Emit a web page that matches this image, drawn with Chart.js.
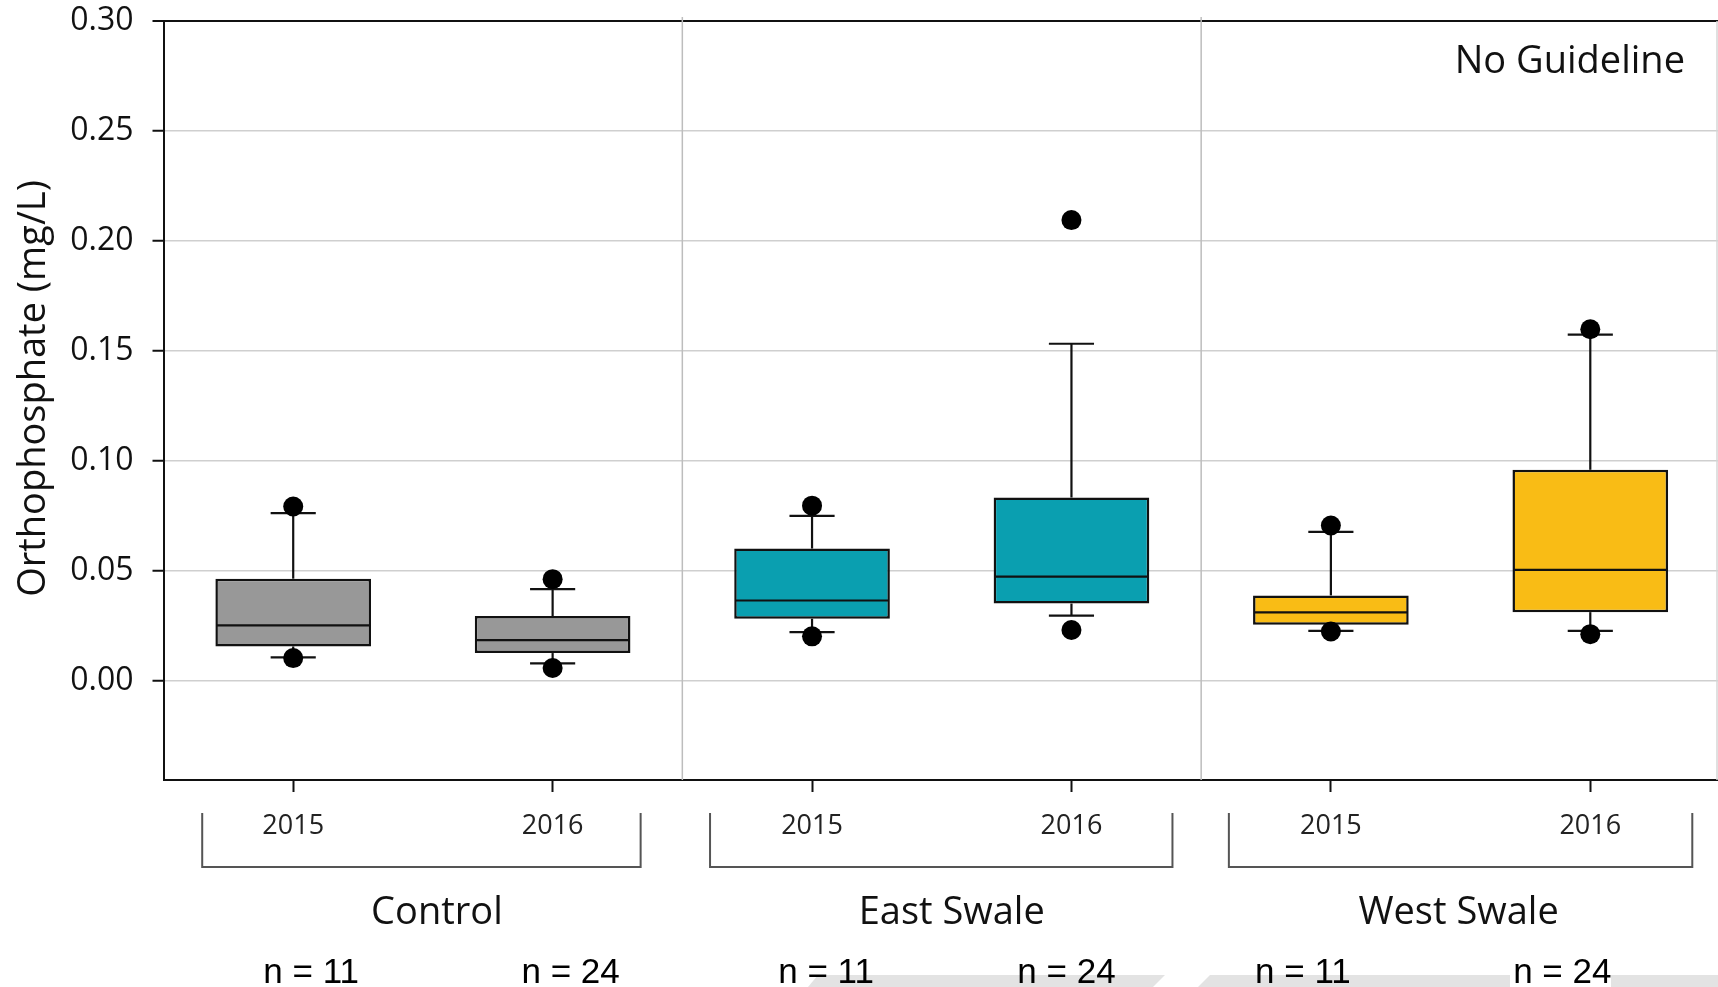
<!DOCTYPE html>
<html>
<head>
<meta charset="utf-8">
<title>Orthophosphate by site and year</title>
<script src="https://cdn.jsdelivr.net/npm/chart.js@4.4.1/dist/chart.umd.min.js"></script>
<style>
  html, body { margin: 0; padding: 0; background: #fff; overflow: hidden; }
  #wrap { position: relative; width: 1720px; height: 987px; }
</style>
</head>
<body>
<div id="wrap"><canvas id="chart"></canvas></div>
<script>
// ---- data ----
const yearLabels   = ['2015', '2016', '2015', '2016', '2015', '2016'];
const sites        = ['Control', 'East Swale', 'West Swale'];
const sampleSizes  = [11, 24, 11, 24, 11, 24];
const q1           = [0.0157, 0.0127, 0.0283, 0.0352, 0.0256, 0.0313];
const median       = [0.0253, 0.0186, 0.0366, 0.0474, 0.0312, 0.0505];
const q3           = [0.0465, 0.0295, 0.0602, 0.0834, 0.0389, 0.0960];
const whiskerLow   = [0.0107, 0.0080, 0.0222, 0.0297, 0.0228, 0.0228];
const whiskerHigh  = [0.0763, 0.0418, 0.0751, 0.1533, 0.0678, 0.1574];
const pointLow     = [0.0104, 0.0059, 0.0203, 0.0232, 0.0225, 0.0213];
const pointHigh    = [0.0793, 0.0463, 0.0797, 0.2095, 0.0707, 0.1599];
const yTickValues  = [0, 0.05, 0.10, 0.15, 0.20, 0.25, 0.30];
const yAxisTitle   = 'Orthophosphate (mg/L)';
const guidelineNote = 'No Guideline';

// ---- styling ----
const FONT = '"Open Sans", "Noto Sans", sans-serif';
const N_FONT = '"Liberation Sans", Arial, sans-serif';
const INK = '#111111';
const boxFill = ['#989898', '#989898', '#0a9fb0', '#0a9fb0', '#f9bc15', '#f9bc15'];
const nLabelShift = [18, 18, 14, -5, -28, -28];     // px nudges of the n labels
const siteLabelShift = [14, 10, -2];                 // px nudges of the site names
const bracketReach = [[91, 88], [102, 101], [102, 102]]; // px beyond outer ticks

function strokeLine(ctx, x1, y1, x2, y2) {
  ctx.beginPath();
  ctx.moveTo(x1, y1);
  ctx.lineTo(x2, y2);
  ctx.stroke();
}

const boxplotExtras = {
  id: 'boxplotExtras',
  beforeDatasetsDraw(chart) {
    const { ctx, chartArea: a, scales: { x, y } } = chart;
    ctx.save();
    // site separators
    ctx.strokeStyle = '#bdbdbd';
    ctx.lineWidth = 1.5;
    for (let g = 1; g < sites.length; g++) {
      const px = (x.getPixelForValue(2 * g - 1) + x.getPixelForValue(2 * g)) / 2;
      strokeLine(ctx, px, a.top - 4, px, a.bottom);
    }
    // faint right frame edge
    ctx.strokeStyle = '#d6d6d6';
    strokeLine(ctx, 1717, a.top, 1717, a.bottom);

    // whiskers and caps
    const catW = x.getPixelForValue(1) - x.getPixelForValue(0);
    const capHalf = catW * 0.6 * 0.145;
    ctx.strokeStyle = INK;
    ctx.lineWidth = 2.2;
    yearLabels.forEach((_, i) => {
      const cx = x.getPixelForValue(i);
      const yHi = y.getPixelForValue(whiskerHigh[i]);
      const yLo = y.getPixelForValue(whiskerLow[i]);
      strokeLine(ctx, cx, y.getPixelForValue(q3[i]), cx, yHi);
      strokeLine(ctx, cx, y.getPixelForValue(q1[i]), cx, yLo);
      strokeLine(ctx, cx - capHalf, yHi, cx + capHalf, yHi);
      strokeLine(ctx, cx - capHalf, yLo, cx + capHalf, yLo);
    });
    ctx.restore();
  },
  afterDatasetDraw(chart, args) {
    if (args.index !== 0) return;
    const { ctx, scales: { x, y } } = chart;
    const catW = x.getPixelForValue(1) - x.getPixelForValue(0);
    const half = catW * 0.6 / 2;
    ctx.save();
    ctx.strokeStyle = INK;
    ctx.lineWidth = 2.2;
    median.forEach((m, i) => {
      const cx = x.getPixelForValue(i);
      const py = y.getPixelForValue(m);
      strokeLine(ctx, cx - half + 1, py, cx + half - 1, py);
    });
    ctx.restore();
  },
  afterDraw(chart) {
    const { ctx, chartArea: a, scales: { x } } = chart;
    ctx.save();

    // light footer band along the bottom edge
    ctx.fillStyle = '#e3e3e3';
    ctx.beginPath();
    ctx.moveTo(818, 975); ctx.lineTo(1165, 975); ctx.lineTo(1153, 987); ctx.lineTo(808, 987);
    ctx.closePath(); ctx.fill();
    ctx.beginPath();
    ctx.moveTo(1210, 975); ctx.lineTo(1720, 975); ctx.lineTo(1720, 987); ctx.lineTo(1198, 987);
    ctx.closePath(); ctx.fill();
    ctx.fillStyle = '#ffffff';
    ctx.fillRect(1510, 974, 101, 14);

    // y axis title
    ctx.fillStyle = INK;
    ctx.font = `38px ${FONT}`;
    ctx.textAlign = 'center';
    ctx.textBaseline = 'alphabetic';
    ctx.save();
    ctx.translate(45, (a.top + a.bottom) / 2 - 12);
    ctx.rotate(-Math.PI / 2);
    ctx.fillText(yAxisTitle, 0, 0);
    ctx.restore();

    // guideline note
    ctx.textAlign = 'right';
    ctx.fillText(guidelineNote, a.right - 35, a.top + 52);

    // site brackets and names
    ctx.strokeStyle = '#555555';
    ctx.lineWidth = 2;
    sites.forEach((site, g) => {
      const x0 = x.getPixelForValue(2 * g) - bracketReach[g][0];
      const x1 = x.getPixelForValue(2 * g + 1) + bracketReach[g][1];
      const top = a.bottom + 33, bot = a.bottom + 87;
      ctx.beginPath();
      ctx.moveTo(x0, top); ctx.lineTo(x0, bot); ctx.lineTo(x1, bot); ctx.lineTo(x1, top);
      ctx.stroke();
      const mid = (x.getPixelForValue(2 * g) + x.getPixelForValue(2 * g + 1)) / 2;
      ctx.fillStyle = INK;
      ctx.font = `38px ${FONT}`;
      ctx.textAlign = 'center';
      ctx.fillText(site, mid + siteLabelShift[g], a.bottom + 144);
    });

    // sample sizes
    ctx.font = `35px ${N_FONT}`;
    ctx.fillStyle = '#000';
    ctx.textAlign = 'center';
    sampleSizes.forEach((n, i) => {
      ctx.fillText(`n = ${n}`, x.getPixelForValue(i) + nLabelShift[i], a.bottom + 203);
    });
    ctx.restore();
  }
};

const isTop = v => Math.abs(v - 0.30) < 1e-9;

new Chart(document.getElementById('chart'), {
  type: 'bar',
  data: {
    labels: yearLabels,
    datasets: [
      {
        label: 'Interquartile range',
        data: q1.map((v, i) => [v, q3[i]]),
        backgroundColor: boxFill,
        borderColor: INK,
        borderWidth: 2.5,
        borderSkipped: false,
        categoryPercentage: 1,
        barPercentage: 0.6,
        order: 2
      },
      {
        type: 'line',
        label: 'High values',
        data: pointHigh,
        showLine: false,
        pointRadius: 10,
        pointBackgroundColor: '#000',
        pointBorderWidth: 0,
        order: 1
      },
      {
        type: 'line',
        label: 'Low values',
        data: pointLow,
        showLine: false,
        pointRadius: 10,
        pointBackgroundColor: '#000',
        pointBorderWidth: 0,
        order: 1
      }
    ]
  },
  options: {
    responsive: true,
    maintainAspectRatio: false,
    animation: false,
    layout: { autoPadding: false, padding: { top: 21, right: 0, bottom: 0, left: 0 } },
    plugins: { legend: { display: false }, tooltip: { enabled: false } },
    scales: {
      x: {
        type: 'category',
        offset: true,
        afterFit: s => { s.height = 207; s.paddingLeft = 0; s.paddingRight = 0; },
        grid: {
          offset: false,
          drawOnChartArea: false,
          drawTicks: true,
          tickLength: 12,
          tickColor: INK,
          tickWidth: 2
        },
        border: { display: true, color: INK, width: 2 },
        ticks: {
          font: { family: FONT, size: 27 },
          color: '#222222',
          padding: 18,
          maxRotation: 0
        }
      },
      y: {
        min: -0.045,
        max: 0.30,
        afterFit: s => { s.width = 163.5; s.paddingTop = 0; s.paddingBottom = 0; },
        afterBuildTicks: s => { s.ticks = yTickValues.map(v => ({ value: v })); },
        grid: {
          color: c => (c.tick && isTop(c.tick.value)) ? INK : '#cfcfcf',
          lineWidth: c => (c.tick && isTop(c.tick.value)) ? 2 : 1.5,
          drawTicks: true,
          tickLength: 11,
          tickColor: INK,
          tickWidth: 2
        },
        border: { display: true, color: INK, width: 2 },
        ticks: {
          font: { family: FONT, size: 32 },
          color: INK,
          padding: 19,
          callback: v => Number(v).toFixed(2)
        },
        title: { display: false }
      }
    }
  },
  plugins: [boxplotExtras]
});
</script>
</body>
</html>
